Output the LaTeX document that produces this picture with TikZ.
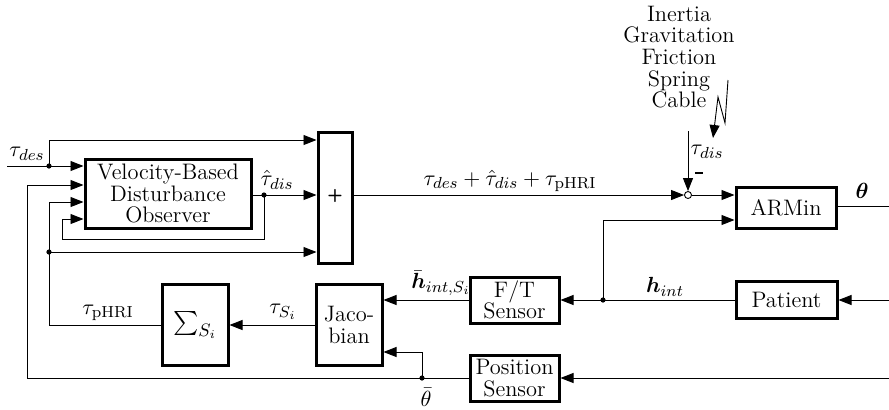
\documentclass[tikz,border=0pt]{standalone}
\usepackage{amsmath,bm}
\usetikzlibrary{arrows.meta}
\begin{document}
\begin{tikzpicture}[x=0.5pt,y=-0.5pt,
  every node/.style={font=\fontsize{11.2}{10.8}\selectfont},
  blk/.style={draw,line width=1.5pt,inner sep=0pt,align=center},
  conn/.style={line width=0.45pt},
  arr/.style={conn,-{Triangle[length=6.5pt,width=5pt]}},
  jdot/.style={circle,fill,inner sep=0pt,minimum size=2.6pt}]
\useasboundingbox (0,0) rectangle (889,409);

% blocks
\node[blk,minimum width=83pt,minimum height=34.5pt] (vbdo) at (168,193.5) {Velocity-Based\\Disturbance\\Observer};
\node[blk,minimum width=17pt,minimum height=65.5pt] (plus) at (335,197.5) {};
\node[blk,minimum width=50pt,minimum height=20.5pt] (armin) at (786,207.5) {ARMin};
\node[blk,minimum width=44.5pt,minimum height=23pt] (ft) at (514.5,300) {F/T\\Sensor};
\node[blk,minimum width=50.5pt,minimum height=18.5pt] (patient) at (786.5,300) {Patient};
\node[blk,minimum width=44.5pt,minimum height=23pt] (pos) at (514.5,378) {Position\\Sensor};
\node[blk,minimum width=33pt,minimum height=40.5pt] (sigma) at (195,325) {\fontsize{12.5}{13}\selectfont$\sum_{S_i}$};
\node[blk,minimum width=33pt,minimum height=40.5pt] (jac) at (349,325) {Jaco-\\bian};
\node[draw,circle,conn,inner sep=0pt,minimum size=3.5pt,fill=white] (sj) at (688,195) {};
\node[inner sep=0pt] (plussign) at (plus.center |- 0,196) {\fontsize{9}{10}\selectfont\textsf{\textbf{+}}};

% coordinates
\coordinate (tin) at (7,166);
\coordinate (d1) at (49,166);
\coordinate (d2) at (264,195);
\coordinate (d3) at (49,252);
\coordinate (d4) at (422,378);
\coordinate (d5) at (603,300);
\coordinate (pin) at (889,300);
\coordinate (qin) at (889,378);
\coordinate (tdis) at (688,131);
\coordinate (thout) at (889,206);
\coordinate (lz) at (728,80);

% connectors
\draw[arr] (tin) -- (vbdo.west |- tin);
\draw[arr] (d1) |- (plus.west |- 0,140);
\draw[arr] (vbdo.east |- d2) -- (plus.west |- d2);
\draw[arr] (d2) |- (62,239) |- (vbdo.west |- 0,219);
\draw[arr] (d3) -- (plus.west |- d3);
\draw[arr] (d3) |- (vbdo.west |- 0,202);
\draw[conn] (sigma.west) -| (d3);
\draw[arr] (pos.west) -| (27,185) -- (vbdo.west |- 0,185);
\draw[arr] (d4) |- (jac.east |- 0,352);
\draw[arr] (qin) -- (pos.east);
\draw[arr] (pin) -- (patient.east);
\draw[arr] (patient.west) -- (ft.east);
\draw[arr] (d5) |- (armin.west |- 0,220);
\draw[arr] (ft.west) -- (jac.east |- ft.west);
\draw[arr] (jac.west) -- (sigma.east);
\draw[arr] (plus.east |- sj) -- (sj.west);
\draw[arr] (sj.east) -- (armin.west |- sj);
\draw[arr] (tdis) -- (sj.north);
\draw[conn] (armin.east |- thout) -- (thout);
\draw[arr] (lz) -- (725,123) -- (718,97) -- (713,138);

% junction dots
\foreach \p in {d1,d2,d3,d4,d5} \node[jdot] at (\p) {};

% labels
\node at (27,154) {$\tau_{des}$};
\node at (277,180) {$\hat\tau_{dis}$};
\node at (510,181) {$\tau_{des}+\hat\tau_{dis}+\tau_{\mathrm{pHRI}}$};
\node at (707,152) {$\tau_{dis}$};
\node[inner sep=0pt] at (699,173) {\rule{4pt}{1.3pt}};
\node at (862,191) {$\bm{\theta}$};
\node at (665,287) {$\bm{h}_{int}$};
\node at (441,283) {$\bar{\bm{h}}_{int,S_i}$};
\node at (283,312) {$\tau_{S_i}$};
\node at (108,313) {$\tau_{\mathrm{pHRI}}$};
\node at (426,397) {$\bar\theta$};
\node[align=center] at (679,57) {Inertia\\Gravitation\\Friction\\Spring\\Cable};
\end{tikzpicture}
\end{document}
